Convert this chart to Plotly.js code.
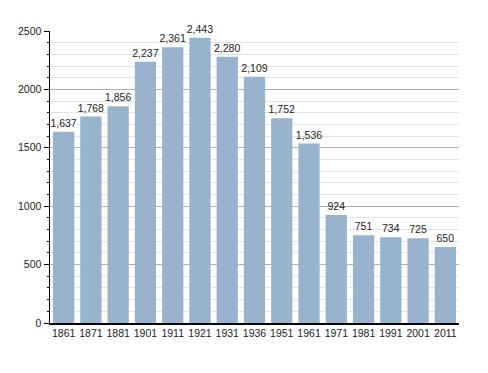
<!DOCTYPE html>
<html><head><meta charset="utf-8">
<script src="https://cdn.plot.ly/plotly-3.0.1.min.js"></script>
<style>html,body{margin:0;padding:0;background:#fff}</style>
</head><body>
<div id="chart" style="width:488px;height:373px"></div>
<script>
const years = ['1861','1871','1881','1901','1911','1921','1931','1936','1951','1961','1971','1981','1991','2001','2011'];
const population = [1637,1768,1856,2237,2361,2443,2280,2109,1752,1536,924,751,734,725,650];
const labels = population.map(v => v.toLocaleString('en-US'));

Plotly.newPlot('chart', [{
  type: 'bar',
  x: years,
  y: population,
  text: labels,
  textposition: 'outside',
  constraintext: 'none',
  cliponaxis: false,
  textfont: {family: 'Liberation Sans, Arial, sans-serif', size: 10.5, color: '#222'},
  marker: {color: '#99b3cc'},
  hoverinfo: 'none'
}], {
  width: 488, height: 373,
  margin: {l: 50, r: 29, t: 31, b: 50},
  bargap: 0.22,
  paper_bgcolor: '#fff', plot_bgcolor: '#fff',
  showlegend: false,
  font: {family: 'Liberation Sans, Arial, sans-serif', size: 10.5, color: '#222'},
  xaxis: {
    type: 'category',
    showline: true, linecolor: '#000', linewidth: 1.5,
    ticks: '', showgrid: false,
    tickfont: {size: 10.5, color: '#222'}
  },
  yaxis: {
    range: [0, 2500], dtick: 500, tick0: 0,
    showline: true, linecolor: '#000', linewidth: 1.5,
    ticks: 'outside', ticklen: 5, tickcolor: '#000', tickwidth: 1,
    gridcolor: '#b0b0b0', gridwidth: 1,
    zeroline: false,
    tickfont: {size: 10.5, color: '#222'},
    minor: {dtick: 100, showgrid: true, gridcolor: '#e2e2e2', gridwidth: 1, ticks: 'outside', ticklen: 2, tickcolor: '#000'}
  }
}, {staticPlot: true, displayModeBar: false});
</script>
</body></html>
